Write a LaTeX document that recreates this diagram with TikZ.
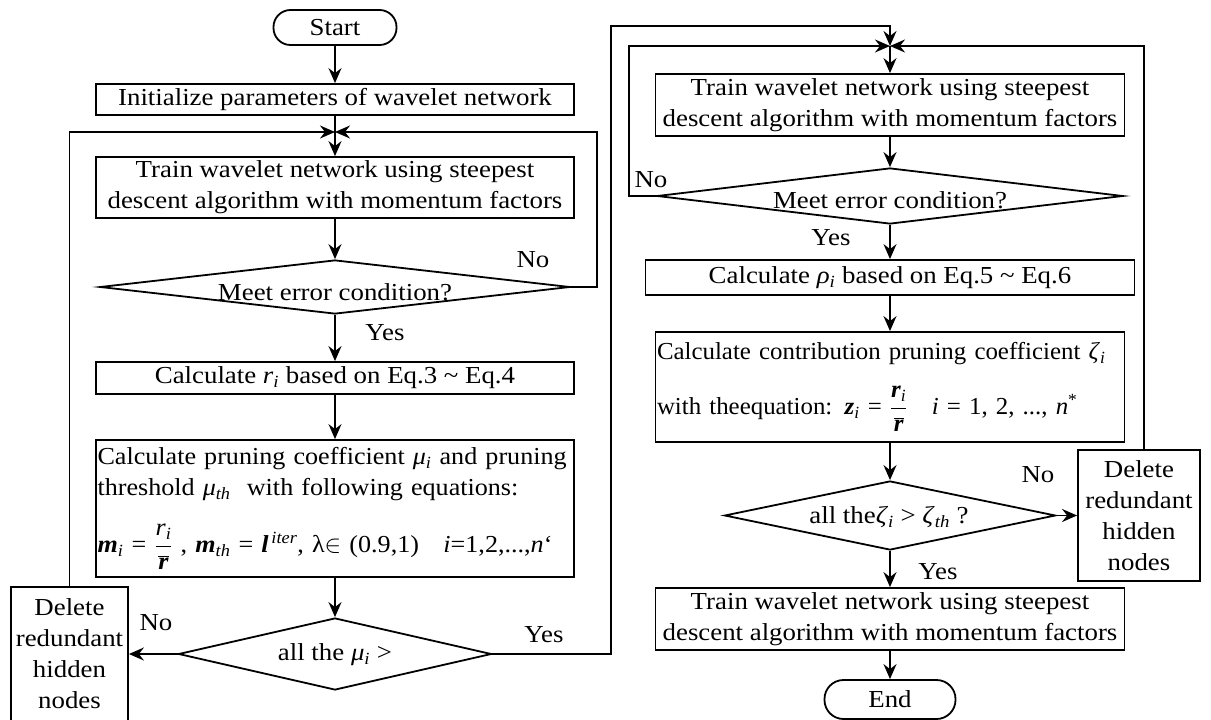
\documentclass[tikz,border=0pt]{standalone}
\usepackage{fontspec}
\setmainfont[FakeStretch=1.1]{Liberation Serif}
\newfontfamily\prunefont[FakeStretch=1.07]{Liberation Serif}
\newfontfamily\contribfont[FakeStretch=1.02]{Liberation Serif}
\usetikzlibrary{arrows.meta,shapes.geometric}
\begin{document}
\begin{tikzpicture}[x=1pt,y=-1pt,
  every node/.style={font={\fontsize{24.4}{31}\selectfont}},
  box/.style={draw, line width=1.8pt, inner sep=0pt, align=center},
  dia/.style={draw, diamond, line width=1.8pt, inner sep=0pt},
  lbl/.style={inner sep=0pt},
  arr/.style={line width=1.8pt, -{Stealth[length=15pt,width=13pt,inset=5pt]}}]
\useasboundingbox (0,0) rectangle (1211,720);
% ---------------- left column ----------------
\node[box, rounded corners=17pt, minimum width=123pt, minimum height=35pt] (start) at (335,27.5) {Start};
\node[box, minimum width=478pt, minimum height=31pt] (init) at (335,99.5) {Initialize parameters of wavelet network};
\coordinate (m1) at (335,132);
\node[box, minimum width=478pt, minimum height=61pt] (train1) at (335,187.5) {Train wavelet network using steepest\\descent algorithm with momentum factors};
\node[dia, minimum width=470pt, minimum height=54pt] (dia1) at (335,287) {};
\node[lbl] (dia1t) at (335,292) {Meet error condition?};
\node[box, minimum width=478pt, minimum height=32pt] (rbox) at (335,378) {Calculate \textit{r}\textsubscript{\textit{i}} based on Eq.3 \textasciitilde{} Eq.4};
\node[box, minimum width=478pt, minimum height=137pt, text width=475pt, align=left,
      font={\fontsize{24.4}{31}\selectfont\prunefont}] (prune) at (335,508.5) {Calculate pruning coefficient \textit{μ}\textsubscript{\textit{i}} and pruning\\threshold \textit{μ}\textsubscript{\textit{th}}~ with following equations:\\[22pt]\textbf{\textit{m}}\textsubscript{\textit{i}} = $\displaystyle\frac{\mbox{\textit{r}\textsubscript{\textit{i}}}}{\overline{\mbox{\textbf{\textit{r}}}}}$~, \textbf{\textit{m}}\textsubscript{\textit{th}} = \textbf{\textit{l}}\textsuperscript{\,\textit{iter}}, λ$\in$ (0.9,1)\quad\textit{i}=1,2,...,\textit{n}‘};
\node[dia, minimum width=313pt, minimum height=72pt] (dia2) at (335,654) {};
\node[lbl] (dia2t) at (335,655) {all the \textit{μ}\textsubscript{\textit{i}} >};
\node[box, minimum width=117pt, minimum height=134pt] (del1) at (69.5,654) {Delete\\redundant\\hidden\\nodes};
% ---------------- right column ----------------
\coordinate (m2) at (890,46);
\coordinate (c1) at (611,26);
\node[box, minimum width=469pt, minimum height=62pt] (train2) at (890,105) {Train wavelet network using steepest\\descent algorithm with momentum factors};
\node[dia, minimum width=466pt, minimum height=56pt] (dia3) at (890,196) {};
\node[lbl] (dia3t) at (890,200) {Meet error condition?};
\node[box, minimum width=489pt, minimum height=35pt] (rho) at (890,277.5) {Calculate \textit{ρ}\textsubscript{\textit{i}} based on Eq.5 \textasciitilde{} Eq.6};
\node[box, minimum width=469pt, minimum height=110pt, text width=466pt, align=left,
      font={\fontsize{24.4}{31}\selectfont\contribfont}] (contrib) at (890,387) {Calculate contribution pruning coefficient \textit{ζ}\textsubscript{\textit{i}}\\[20pt]with theequation: \textbf{\textit{z}}\textsubscript{\textit{i}} = $\displaystyle\frac{\mbox{\textbf{\textit{r}}\textsubscript{\textit{i}}}}{\overline{\mbox{\textbf{\textit{r}}}}}$\quad \textit{i} = 1, 2, ..., \textit{n}\textsuperscript{*}};
\node[dia, minimum width=331pt, minimum height=69pt] (dia4) at (890,515.5) {};
\node[lbl] (dia4t) at (889,517) {all the\textit{ζ}\textsubscript{\textit{i}} > \textit{ζ}\textsubscript{\textit{th}} ?};
\node[box, minimum width=122pt, minimum height=131pt] (del2) at (1139,515.5) {Delete\\redundant\\hidden\\nodes};
\node[box, minimum width=469pt, minimum height=62pt] (train3) at (890,619) {Train wavelet network using steepest\\descent algorithm with momentum factors};
\node[box, rounded corners=19pt, minimum width=131pt, minimum height=39pt] (endn) at (890,699.5) {End};
% ---------------- labels ----------------
\node[lbl] (no1) at (533,260) {No};
\node[lbl] (yes1) at (385,333) {Yes};
\node[lbl] (no2) at (156,623) {No};
\node[lbl] (yes2) at (544,635) {Yes};
\node[lbl] (no3) at (651,180) {No};
\node[lbl] (yes3) at (831,238) {Yes};
\node[lbl] (no4) at (1038,475) {No};
\node[lbl] (yes4) at (938,572) {Yes};
% ---------------- connectors ----------------
\draw[arr] (start) -- (init);
\draw[arr] (init) -- (train1);
\draw[arr] (del1.north) |- (m1);
\draw[arr] (dia1.east) -- ++(26,0) |- (m1);
\draw[arr] (train1) -- (dia1);
\draw[arr] (dia1) -- (rbox);
\draw[arr] (rbox) -- (prune);
\draw[arr] (prune) -- (dia2);
\draw[arr] (dia2.west) -- (del1.east);
\draw[arr] (dia2.east) -| (c1) -| (m2);
\draw[arr] (m2) -- (train2);
\draw[arr] (train2) -- (dia3);
\draw[arr] (dia3.west) -- ++(-27,0) |- (m2);
\draw[arr] (dia3) -- (rho);
\draw[arr] (rho) -- (contrib);
\draw[arr] (contrib) -- (dia4);
\draw[arr] (dia4.east) -- (del2.west);
\draw[arr] ([xshift=5pt]del2.north) |- (m2);
\draw[arr] (dia4) -- (train3);
\draw[arr] (train3) -- (endn);
\end{tikzpicture}
\end{document}
